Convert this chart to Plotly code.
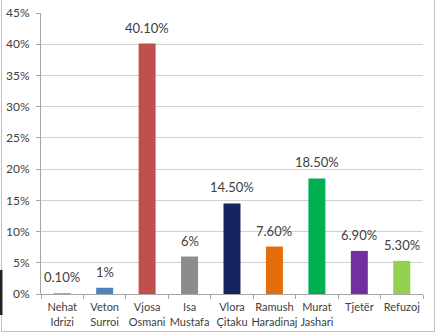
import plotly.graph_objects as go

# Vote share per candidate (%)
candidates = ["Nehat<br>Idrizi", "Veton<br>Surroi", "Vjosa<br>Osmani", "Isa<br>Mustafa",
              "Vlora<br>Çitaku", "Ramush<br>Haradinaj", "Murat<br>Jashari", "Tjetër", "Refuzoj"]
shares = [0.1, 1, 40.1, 6, 14.5, 7.6, 18.5, 6.9, 5.3]
share_labels = ["0.10%", "1%", "40.10%", "6%", "14.50%", "7.60%", "18.50%", "6.90%", "5.30%"]
bar_colors = ["#A6A6A6", "#4F81BD", "#C0504D", "#8C8C8C", "#14255F",
              "#E46C0A", "#00B050", "#7030A0", "#92D050"]
y_ticks = [0, 5, 10, 15, 20, 25, 30, 35, 40, 45]
y_tick_labels = ["0%", "5%", "10%", "15%", "20%", "25%", "30%", "35%", "40%", "45%"]

W, H = 438, 333
L, R, T, B = 41, 15, 13, 39
pw, ph = W - L - R, H - T - B


def px_x(p):
    return (p - L) / pw


def px_y(p):
    return (H - B - p) / ph


fig = go.Figure(go.Bar(
    x=candidates,
    y=shares,
    marker=dict(color=bar_colors, line=dict(width=0)),
    width=0.4,
    cliponaxis=False,
    hoverinfo="x+y",
))

# value labels above each bar
for cat, val, lab in zip(candidates, shares, share_labels):
    fig.add_annotation(x=cat, y=val, text=lab, showarrow=False,
                       yanchor="bottom", yshift=6,
                       font=dict(size=13, color="#404040"))

frame = "#BFBFBF"
shapes = [
    dict(type="line", xref="paper", yref="paper", x0=px_x(1.5), x1=px_x(1.5), y0=px_y(-5), y1=px_y(331.5),
         line=dict(color=frame, width=1)),
    dict(type="line", xref="paper", yref="paper", x0=px_x(434.5), x1=px_x(434.5), y0=px_y(-5), y1=px_y(331.5),
         line=dict(color=frame, width=1)),
    dict(type="line", xref="paper", yref="paper", x0=px_x(1.5), x1=px_x(434.5), y0=px_y(331.5), y1=px_y(331.5),
         line=dict(color=frame, width=1)),
    dict(type="rect", xref="paper", yref="paper", x0=px_x(0), x1=px_x(2.5), y0=px_y(270), y1=px_y(315),
         fillcolor="#222222", line=dict(width=0)),
]

fig.update_layout(
    width=W, height=H,
    margin=dict(l=L, r=R, t=T, b=B),
    paper_bgcolor="white", plot_bgcolor="white",
    font=dict(family="Lato, Open Sans, sans-serif", color="#404040", size=12),
    showlegend=False,
    bargap=0.6,
    shapes=shapes,
    xaxis=dict(
        type="category",
        tickson="boundaries",
        ticks="outside", ticklen=4, tickcolor="#A6A6A6",
        ticklabelstandoff=3,
        showline=True, linecolor="#A6A6A6", linewidth=1,
        showgrid=False,
        tickangle=0,
        tickfont=dict(size=11, color="#404040"),
        range=[-0.5, 8.5],
        automargin=False,
        fixedrange=True,
    ),
    yaxis=dict(
        range=[0, 45],
        tickmode="array",
        tickvals=y_ticks,
        ticktext=y_tick_labels,
        ticks="outside", ticklen=4, tickcolor="#A6A6A6",
        ticklabelstandoff=4,
        showline=True, linecolor="#A6A6A6", linewidth=1,
        showgrid=True, gridcolor="#D0D0D0", gridwidth=1,
        zeroline=False,
        tickfont=dict(size=12, color="#404040"),
        automargin=False,
        fixedrange=True,
    ),
)

fig.write_html("out.html", config={"displayModeBar": False})
